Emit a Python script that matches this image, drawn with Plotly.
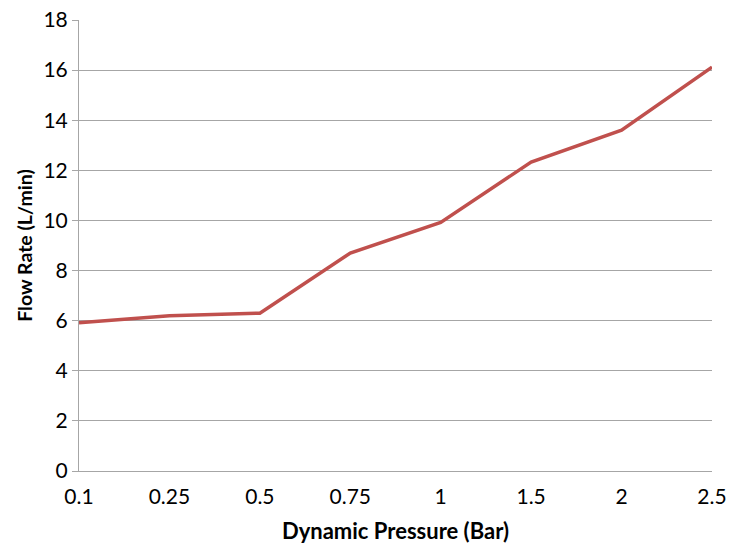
import plotly.graph_objects as go

pressure = ["0.1", "0.25", "0.5", "0.75", "1", "1.5", "2", "2.5"]
flow_rate = [5.92, 6.2, 6.3, 8.7, 9.92, 12.33, 13.6, 16.12]
y_ticks = [0, 2, 4, 6, 8, 10, 12, 14, 16, 18]

fig = go.Figure()
fig.add_trace(go.Scatter(
    x=pressure, y=flow_rate, mode="lines",
    line=dict(color="#C0504D", width=3.5),
))

font_family = "Lato, Open Sans, sans-serif"
fig.update_layout(
    width=735, height=547,
    margin=dict(l=71, r=31, t=12, b=84, autoexpand=False),
    paper_bgcolor="white", plot_bgcolor="white",
    showlegend=False,
    font=dict(family=font_family, size=21, color="black"),
    xaxis=dict(
        type="category", range=[0, 7], automargin=False,
        showgrid=False, showline=True, linecolor="#A6A6A6", linewidth=1,
        ticks="outside", ticklen=7, tickcolor="rgba(0,0,0,0)",
        tickfont=dict(size=21), ticklabeloverflow="allow",
        title=dict(text="<b>Dynamic Pressure (Bar)</b>", font=dict(size=22), standoff=16),
    ),
    yaxis=dict(
        range=[0, 18], tickvals=y_ticks, automargin=False,
        showgrid=True, gridcolor="#A6A6A6", gridwidth=1,
        showline=True, linecolor="#A6A6A6", linewidth=1,
        ticks="outside", ticklen=6, tickcolor="#A6A6A6",
        tickfont=dict(size=21), zeroline=False, ticklabeloverflow="allow",
        title=dict(text="<b>Flow Rate (L/min)</b>", font=dict(size=19.5), standoff=5),
    ),
)

fig.write_html("out.html")
